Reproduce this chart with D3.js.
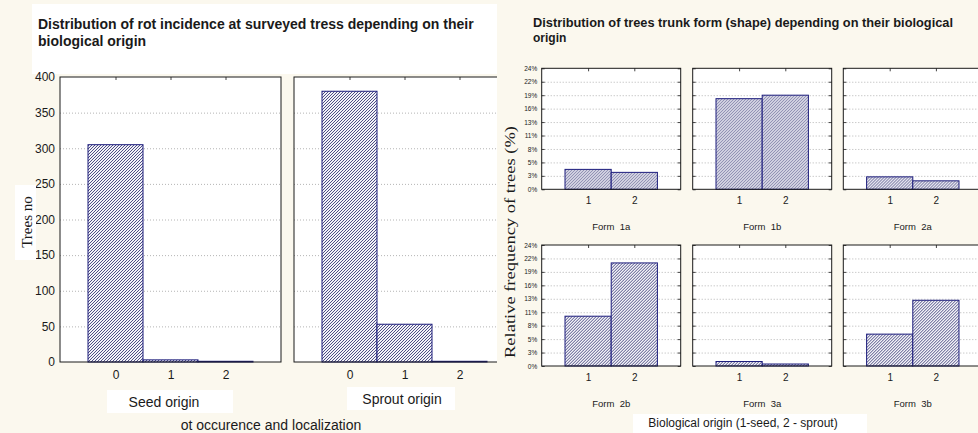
<!DOCTYPE html>
<html>
<head>
<meta charset="utf-8">
<script src="https://cdn.jsdelivr.net/npm/d3@7"></script>
<style>
  html, body { margin: 0; padding: 0; background: #fbf8ee; }
  svg { display: block; }
  text { font-family: "Liberation Sans", Arial, sans-serif; fill: #1a1a1a; }
  .serif { font-family: "Liberation Serif", "DejaVu Serif", serif; }
</style>
</head>
<body>
<svg id="chart" width="978" height="433"></svg>
<script>
// ---- Rot incidence (counts of trees) ----
const rotCategories = ["0", "1", "2"];
const seedOriginCounts = [305, 3, 1];
const sproutOriginCounts = [380, 53, 1];
const rotTicks = [0, 50, 100, 150, 200, 250, 300, 350, 400];
const rotPanelNames = ["Seed origin", "Sprout origin"];

// ---- Trunk form (relative frequency, %) ----
const formNames = ["1a", "1b", "2a", "2b", "3a", "3b"];
const originCategories = ["1", "2"];
const seedFormPct = [4.0, 18.2, 2.5, 10.0, 0.9, 6.4];
const sproutFormPct = [3.4, 18.9, 1.7, 20.7, 0.4, 13.2];
const freqTickValues = [0, 2.7, 5.4, 8.1, 10.8, 13.5, 16.2, 18.9, 21.6, 24.3];
const freqTickLabels = ["0%", "3%", "5%", "8%", "11%", "13%", "16%", "19%", "22%", "24%"];

const svg = d3.select("#chart");
const W = 978, H = 433;

svg.append("rect").attr("width", W).attr("height", H).attr("fill", "#fbf8ee");

const defs = svg.append("defs");
const hatch = defs.append("pattern")
  .attr("id", "hatch").attr("patternUnits", "userSpaceOnUse")
  .attr("width", 3).attr("height", 3);
hatch.append("rect").attr("width", 3).attr("height", 3).attr("fill", "#f2f2f8");
hatch.append("path")
  .attr("d", "M-0.75,0.75 l1.5,-1.5 M0,3 l3,-3 M2.25,3.75 l1.5,-1.5")
  .attr("stroke", "#4e4e84").attr("stroke-width", 1);

defs.append("clipPath").attr("id", "clipLeft")
  .append("rect").attr("x", 0).attr("y", 0).attr("width", 497).attr("height", H);
defs.append("clipPath").attr("id", "clipRight")
  .append("rect").attr("x", 497).attr("y", 0).attr("width", W - 497).attr("height", H);

function styleGrid(g) {
  g.select(".domain").remove();
  g.selectAll(".tick line").attr("stroke", "#b4b4b4").attr("stroke-dasharray", "1,2");
  g.selectAll(".tick text").remove();
}

// ================= Left chart =================
const L = svg.append("g").attr("clip-path", "url(#clipLeft)");

// white title box
L.append("rect").attr("x", 32).attr("y", 4).attr("width", 470).attr("height", 70).attr("fill", "#ffffff");
L.append("text").attr("x", 38).attr("y", 29)
  .attr("font-size", 14).attr("font-weight", "bold")
  .text("Distribution of rot incidence at surveyed tress depending on their");
L.append("text").attr("x", 38).attr("y", 46)
  .attr("font-size", 14).attr("font-weight", "bold")
  .text("biological origin");

const rotTop = 77, rotBottom = 362, rotPanelW = 221, rotGap = 13, rotLeft0 = 60;
const yRot = d3.scaleLinear().domain([0, 400]).range([rotBottom, rotTop]);

const rotSeries = [seedOriginCounts, sproutOriginCounts];
rotSeries.forEach((vals, p) => {
  const left = rotLeft0 + p * (rotPanelW + rotGap);
  const g = L.append("g").attr("transform", `translate(${left},0)`);
  const x = d3.scaleBand().domain(rotCategories).range([28, 193]).padding(0);

  g.append("rect").attr("x", 0).attr("y", rotTop).attr("width", rotPanelW)
    .attr("height", rotBottom - rotTop).attr("fill", "#ffffff");

  g.append("g").call(d3.axisLeft(yRot).tickValues(rotTicks.slice(1, -1)).tickSize(-rotPanelW))
    .call(styleGrid);

  g.selectAll("rect.bar").data(vals).join("rect").attr("class", "bar")
    .attr("x", (d, i) => x(rotCategories[i]))
    .attr("y", d => yRot(d))
    .attr("width", x.bandwidth())
    .attr("height", d => rotBottom - yRot(d))
    .attr("fill", "url(#hatch)")
    .attr("stroke", "#1c1c7c").attr("stroke-width", 1);

  // small ticks on top and bottom frame at category centres
  const xc = d3.scalePoint().domain(rotCategories).range([x.step() / 2 + 28, 193 - x.step() / 2]);
  g.append("g").attr("transform", `translate(0,${rotTop})`)
    .call(d3.axisBottom(xc).tickSize(3).tickFormat(""))
    .call(a => a.select(".domain").remove())
    .call(a => a.selectAll("line").attr("stroke", "#444"));
  g.append("g").attr("transform", `translate(0,${rotBottom})`)
    .call(d3.axisBottom(xc).tickSize(0).tickPadding(8))
    .call(a => a.select(".domain").remove())
    .call(a => a.selectAll("text").attr("font-size", 12).attr("fill", "#1a1a1a")
      .style("font-family", "'Liberation Sans', Arial, sans-serif"));

  g.append("rect").attr("x", 0).attr("y", rotTop).attr("width", rotPanelW)
    .attr("height", rotBottom - rotTop).attr("fill", "none")
    .attr("stroke", "#1a1a1a").attr("stroke-width", 1);
});

// y axis labels
L.append("g").attr("transform", `translate(${rotLeft0},0)`)
  .call(d3.axisLeft(yRot).tickValues(rotTicks).tickSize(0).tickPadding(5))
  .call(a => a.select(".domain").remove())
  .call(a => a.selectAll("text").attr("font-size", 12).attr("fill", "#1a1a1a")
    .style("font-family", "'Liberation Sans', Arial, sans-serif"));

// y axis title
L.append("rect").attr("x", 15).attr("y", 185).attr("width", 21).attr("height", 75).attr("fill", "#ffffff");
L.append("text").attr("class", "serif")
  .attr("transform", "translate(27,222) rotate(-90)")
  .attr("text-anchor", "middle").attr("dominant-baseline", "central")
  .attr("font-size", 15).text("Trees no");

// panel captions
const captionBoxes = [
  { x: 107, y: 390, w: 126, h: 23, cx: 164, cy: 402 },
  { x: 347, y: 387, w: 108, h: 23, cx: 402, cy: 399 }
];
rotPanelNames.forEach((name, i) => {
  const b = captionBoxes[i];
  L.append("rect").attr("x", b.x).attr("y", b.y).attr("width", b.w).attr("height", b.h).attr("fill", "#ffffff");
  L.append("text").attr("x", b.cx).attr("y", b.cy).attr("text-anchor", "middle")
    .attr("dominant-baseline", "central").attr("font-size", 14).text(name);
});
L.append("text").attr("x", 271).attr("y", 425).attr("text-anchor", "middle")
  .attr("dominant-baseline", "central").attr("font-size", 14).text("ot occurence and localization");

// ================= Right chart =================
const R = svg.append("g").attr("clip-path", "url(#clipRight)");
R.append("rect").attr("x", 497).attr("y", 0).attr("width", W - 497).attr("height", H).attr("fill", "#fbf8ee");

R.append("text").attr("x", 533).attr("y", 27)
  .attr("font-size", 12).attr("font-weight", "bold")
  .attr("textLength", 420).attr("lengthAdjust", "spacingAndGlyphs")
  .text("Distribution of trees trunk form (shape) depending on their biological");
R.append("text").attr("x", 533).attr("y", 42)
  .attr("font-size", 12).attr("font-weight", "bold")
  .text("origin");

const colLeft = [541.7, 692.7, 843.3];
const rowTop = [68.3, 245];
const pW = 139, pH = 121;
const xForm = d3.scaleBand().domain(originCategories).range([23.3, 115.7]).padding(0);
const yForm = d3.scaleLinear().domain([0, 24.3]).range([pH, 0]);

formNames.forEach((form, k) => {
  const col = k % 3, row = Math.floor(k / 3);
  const g = R.append("g").attr("transform", `translate(${colLeft[col]},${rowTop[row]})`);
  const vals = [seedFormPct[k], sproutFormPct[k]];

  g.append("rect").attr("width", pW).attr("height", pH).attr("fill", "#ffffff");
  g.append("g").call(d3.axisLeft(yForm).tickValues(freqTickValues.slice(1, -1)).tickSize(-pW))
    .call(styleGrid);

  g.selectAll("rect.bar").data(vals).join("rect").attr("class", "bar")
    .attr("x", (d, i) => xForm(originCategories[i]))
    .attr("y", d => yForm(d))
    .attr("width", xForm.bandwidth())
    .attr("height", d => pH - yForm(d))
    .attr("fill", "url(#hatch)")
    .attr("stroke", "#1c1c7c").attr("stroke-width", 1);

  // inner ticks on left/right frame and top frame
  g.append("g").call(d3.axisRight(yForm).tickValues(freqTickValues).tickSize(3).tickFormat(""))
    .call(a => a.select(".domain").remove())
    .call(a => a.selectAll("line").attr("stroke", "#444"));
  g.append("g").attr("transform", `translate(${pW},0)`)
    .call(d3.axisLeft(yForm).tickValues(freqTickValues).tickSize(3).tickFormat(""))
    .call(a => a.select(".domain").remove())
    .call(a => a.selectAll("line").attr("stroke", "#444"));
  const xc = d3.scalePoint().domain(originCategories)
    .range([xForm(originCategories[0]) + xForm.bandwidth() / 2, xForm(originCategories[1]) + xForm.bandwidth() / 2]);
  g.append("g").call(d3.axisBottom(xc).tickSize(3).tickFormat(""))
    .call(a => a.select(".domain").remove())
    .call(a => a.selectAll("line").attr("stroke", "#444"));
  g.append("g").attr("transform", `translate(0,${pH})`)
    .call(d3.axisBottom(xc).tickSize(0).tickPadding(8))
    .call(a => a.select(".domain").remove())
    .call(a => a.selectAll("text").attr("font-size", 10).attr("fill", "#1a1a1a")
      .style("font-family", "'Liberation Sans', Arial, sans-serif"));

  if (col === 0) {
    g.append("g").call(d3.axisLeft(yForm).tickValues(freqTickValues).tickSize(0).tickPadding(4.5)
        .tickFormat((d, i) => freqTickLabels[i]))
      .call(a => a.select(".domain").remove())
      .call(a => a.selectAll("text").attr("font-size", 6.5).attr("fill", "#1a1a1a")
        .style("font-family", "'Liberation Sans', Arial, sans-serif"));
  }

  g.append("rect").attr("width", pW).attr("height", pH).attr("fill", "none")
    .attr("stroke", "#1a1a1a").attr("stroke-width", 1);

  g.append("text").attr("x", pW / 2).attr("y", pH + 37.5)
    .attr("text-anchor", "middle").attr("dominant-baseline", "central")
    .attr("font-size", 9.5).style("white-space", "pre")
    .text("Form  " + form);
});

R.append("text").attr("class", "serif")
  .attr("transform", "translate(510,242) rotate(-90)")
  .attr("text-anchor", "middle").attr("dominant-baseline", "central")
  .attr("font-size", 15).attr("textLength", 232).attr("lengthAdjust", "spacingAndGlyphs")
  .text("Relative frequency of trees (%)");

R.append("rect").attr("x", 633).attr("y", 414).attr("width", 234).attr("height", 19).attr("fill", "#ffffff");
R.append("text").attr("x", 743).attr("y", 423).attr("text-anchor", "middle")
  .attr("dominant-baseline", "central").attr("font-size", 12)
  .text("Biological origin (1-seed, 2 - sprout)");
</script>
</body>
</html>
